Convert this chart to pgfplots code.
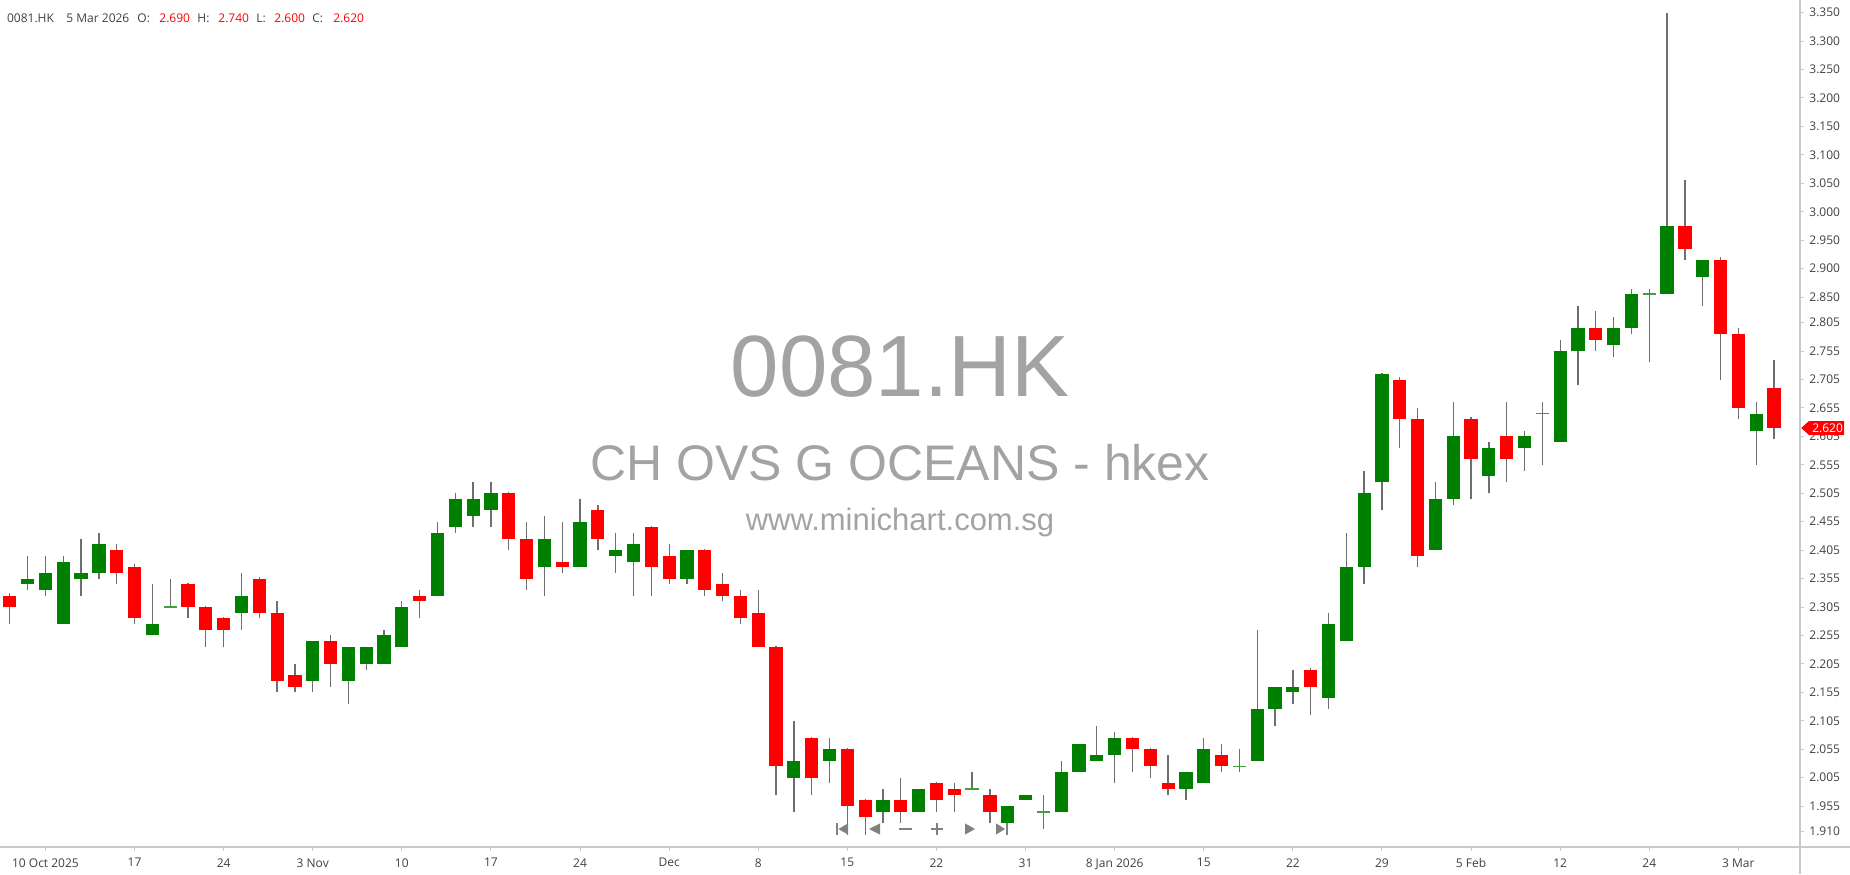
\documentclass[border=0pt]{standalone}
\usepackage{pgfplots}
\pgfplotsset{compat=1.18}
\usepackage{pgfplotstable}
\usepackage{fontspec}
\setmainfont{Open Sans}
\newfontfamily\wmfont{Liberation Sans}
\definecolor{cgreen}{HTML}{008000}
\definecolor{cred}{HTML}{FF0000}
\definecolor{wick}{HTML}{6E6E6E}
\definecolor{axisgray}{HTML}{C8C8C8}
\definecolor{lblgray}{HTML}{404040}
\definecolor{wmgray}{HTML}{A3A3A3}
\definecolor{navgray}{HTML}{808080}

% rising candles (close > open)
\pgfplotstableread{
i O H L C
1 2.345 2.395 2.335 2.355
2 2.335 2.395 2.325 2.365
3 2.275 2.395 2.275 2.385
4 2.355 2.425 2.325 2.365
5 2.365 2.435 2.355 2.415
8 2.255 2.345 2.255 2.275
13 2.295 2.365 2.265 2.325
17 2.175 2.245 2.155 2.245
19 2.175 2.235 2.135 2.235
20 2.205 2.235 2.195 2.235
21 2.205 2.265 2.205 2.255
22 2.235 2.315 2.235 2.305
24 2.325 2.455 2.325 2.435
25 2.445 2.505 2.435 2.495
26 2.465 2.525 2.445 2.495
27 2.475 2.525 2.445 2.505
30 2.375 2.465 2.325 2.425
32 2.375 2.495 2.375 2.455
34 2.395 2.435 2.365 2.405
35 2.385 2.435 2.325 2.415
38 2.355 2.405 2.345 2.405
44 2.005 2.105 1.945 2.035
46 2.035 2.075 1.995 2.055
49 1.945 1.985 1.925 1.965
51 1.945 1.985 1.945 1.985
56 1.925 1.955 1.915 1.955
57 1.965 1.975 1.965 1.975
59 1.945 2.035 1.945 2.015
60 2.015 2.065 2.015 2.065
61 2.035 2.095 2.035 2.045
62 2.045 2.085 1.995 2.075
66 1.985 2.015 1.965 2.015
67 1.995 2.075 1.995 2.055
70 2.035 2.265 2.035 2.125
71 2.125 2.165 2.095 2.165
72 2.155 2.195 2.135 2.165
74 2.145 2.295 2.125 2.275
75 2.245 2.435 2.245 2.375
76 2.375 2.545 2.345 2.505
77 2.525 2.717 2.475 2.715
80 2.405 2.525 2.405 2.495
81 2.495 2.665 2.485 2.605
83 2.535 2.595 2.505 2.585
85 2.585 2.615 2.545 2.605
87 2.595 2.775 2.595 2.755
88 2.755 2.835 2.695 2.795
90 2.765 2.815 2.745 2.795
91 2.795 2.865 2.785 2.855
93 2.855 3.350 2.855 2.975
95 2.885 2.915 2.835 2.915
98 2.615 2.665 2.555 2.645
}\greendata

% falling candles (close < open)
\pgfplotstableread{
i O H L C
0 2.325 2.330 2.275 2.305
6 2.405 2.415 2.345 2.365
7 2.375 2.380 2.275 2.285
10 2.345 2.348 2.285 2.305
11 2.305 2.307 2.235 2.265
12 2.285 2.287 2.235 2.265
14 2.355 2.358 2.285 2.295
15 2.295 2.315 2.155 2.175
16 2.185 2.205 2.155 2.165
18 2.245 2.255 2.165 2.205
23 2.325 2.335 2.285 2.315
28 2.505 2.507 2.405 2.425
29 2.425 2.455 2.335 2.355
31 2.385 2.455 2.365 2.375
33 2.475 2.485 2.405 2.425
36 2.445 2.447 2.325 2.375
37 2.395 2.415 2.345 2.355
39 2.405 2.407 2.325 2.335
40 2.345 2.365 2.315 2.325
41 2.325 2.335 2.275 2.285
42 2.295 2.335 2.235 2.235
43 2.235 2.237 1.975 2.025
45 2.075 2.077 1.975 2.005
47 2.055 2.057 1.905 1.955
48 1.965 1.967 1.905 1.935
50 1.965 2.005 1.925 1.945
52 1.995 1.997 1.945 1.965
53 1.985 1.995 1.945 1.975
55 1.975 1.985 1.925 1.945
63 2.075 2.077 2.015 2.055
64 2.055 2.057 2.005 2.025
65 1.995 2.045 1.975 1.985
68 2.045 2.065 2.015 2.025
73 2.195 2.197 2.115 2.165
78 2.705 2.710 2.585 2.635
79 2.635 2.655 2.375 2.395
82 2.635 2.640 2.495 2.565
84 2.605 2.665 2.525 2.565
89 2.795 2.825 2.755 2.775
94 2.975 3.055 2.915 2.935
96 2.915 2.920 2.705 2.785
97 2.785 2.795 2.635 2.655
99 2.690 2.740 2.600 2.620
}\reddata

% unchanged candles (close = open)
\pgfplotstableread{
i O H L C
9 2.305 2.355 2.305 2.305
54 1.985 2.015 1.985 1.985
58 1.945 1.975 1.915 1.945
69 2.025 2.055 2.015 2.025
86 2.645 2.665 2.555 2.645
92 2.855 2.865 2.735 2.855
}\dojidata

\pgfplotsset{
  candle/.style={only marks, mark=*, mark size=0pt, mark options={draw=none, fill=none}, forget plot,
    error bars/.cd, y dir=plus, y explicit, error mark=none},
}

\begin{document}
\begin{tikzpicture}
\useasboundingbox (0pt,-13.5pt) rectangle (925pt,423.5pt);
% watermark
\node[anchor=base, inner sep=0pt, text=wmgray, font=\wmfont\fontsize{43.5}{50}\selectfont] at (450pt,225.5pt) {0081.HK};
\node[anchor=base, inner sep=0pt, text=wmgray, font=\wmfont\fontsize{25}{30}\selectfont] at (450pt,183.2pt) {CH OVS G OCEANS - hkex};
\node[anchor=base, inner sep=0pt, text=wmgray, font=\wmfont\fontsize{15.5}{18}\selectfont] at (450pt,158.2pt) {www.minichart.com.sg};

\begin{axis}[
  at={(0pt,0pt)}, anchor=south west,
  scale only axis, width=900pt, height=423.5pt,
  xmin=-0.55, xmax=100.46, ymin=1.8831, ymax=3.3723,
  axis x line*=bottom, axis y line*=right,
  axis line style={draw=axisgray, line width=0.6pt, -},
  tick align=outside, major tick length=2pt,
  every tick/.style={draw=axisgray, line width=0.5pt},
  xtick={2,7,12,17,22,27,32,37,42,47,52,57,62,67,72,77,82,87,92,97},
  xticklabels={10 Oct 2025,17,24,3 Nov,10,17,24,Dec,8,15,22,31,8 Jan 2026,15,22,29,5 Feb,12,24,3 Mar},
  ytick={3.35,3.3,3.25,3.2,3.15,3.1,3.05,3.0,2.95,2.9,2.85,2.805,2.755,2.705,2.655,2.605,2.555,2.505,2.455,2.405,2.355,2.305,2.255,2.205,2.155,2.105,2.055,2.005,1.955,1.91},
  yticklabels={3.350,3.300,3.250,3.200,3.150,3.100,3.050,3.000,2.950,2.900,2.850,2.805,2.755,2.705,2.655,2.605,2.555,2.505,2.455,2.405,2.355,2.305,2.255,2.205,2.155,2.105,2.055,2.005,1.955,1.910},
  ticklabel style={font=\fontsize{6}{7}\selectfont, text=lblgray},
  xticklabel style={anchor=north, inner sep=0pt, yshift=-3.5pt},
  yticklabel style={anchor=west, inner sep=0pt, xshift=2.5pt},
  clip=false,
]
% wicks
\addplot[candle, error bar style={draw=wick, line width=0.65pt}]
  table[x=i, y=L, y error expr=\thisrow{H}-\thisrow{L}] {\greendata};
\addplot[candle, error bar style={draw=wick, line width=0.65pt}]
  table[x=i, y=L, y error expr=\thisrow{H}-\thisrow{L}] {\reddata};
\addplot[candle, error bar style={draw=wick, line width=0.65pt}]
  table[x=i, y=L, y error expr=\thisrow{H}-\thisrow{L}] {\dojidata};
% bodies
\addplot[candle, error bar style={draw=cgreen, line width=6.6pt}]
  table[x=i, y=O, y error expr=\thisrow{C}-\thisrow{O}] {\greendata};
\addplot[candle, error bar style={draw=cred, line width=6.6pt}]
  table[x=i, y=C, y error expr=\thisrow{O}-\thisrow{C}] {\reddata};
\addplot[only marks, mark=-, mark size=3.3pt, forget plot, mark options={draw=cgreen!75!white, line width=0.8pt}]
  table[x=i, y=O] {\dojidata};
\end{axis}

% axis line continuations
\draw[axisgray, line width=0.6pt] (900pt,0pt) -- (925pt,0pt);
\draw[axisgray, line width=0.6pt] (900pt,0pt) -- (900pt,-13.5pt);

% last price marker
\fill[cred] (900.6pt,209.5pt) -- (904.5pt,213pt) -- (922pt,213pt) -- (922pt,206pt) -- (904.5pt,206pt) -- cycle;
\node[text=white, inner sep=0pt, font=\fontsize{6}{7}\selectfont] at (913.8pt,209.5pt) {2.620};

% header
\begin{scope}[every node/.style={anchor=west, inner sep=0pt, font=\fontsize{6}{7}\selectfont}]
\node[text=lblgray] at (3.35pt,414.5pt) {0081.HK};
\node[text=lblgray] at (33pt,414.5pt) {5 Mar 2026};
\node[text=lblgray] at (68.5pt,414.5pt) {O:};
\node[text=cred] at (79.5pt,414.5pt) {2.690};
\node[text=lblgray] at (98.5pt,414.5pt) {H:};
\node[text=cred] at (109pt,414.5pt) {2.740};
\node[text=lblgray] at (128pt,414.5pt) {L:};
\node[text=cred] at (137pt,414.5pt) {2.600};
\node[text=lblgray] at (156pt,414.5pt) {C:};
\node[text=cred] at (166.5pt,414.5pt) {2.620};
\end{scope}

% navigation icons
\begin{scope}[navgray]
\fill (418pt,6.2pt) rectangle (418.9pt,11.8pt);
\fill (419.2pt,9pt) -- (424pt,11.8pt) -- (424pt,6.2pt) -- cycle;
\fill (434.5pt,9pt) -- (440pt,11.8pt) -- (440pt,6.2pt) -- cycle;
\draw[line width=1pt] (449.5pt,9pt) -- (456pt,9pt);
\draw[line width=1pt] (465.5pt,9pt) -- (471.5pt,9pt);
\draw[line width=1pt] (468.5pt,6pt) -- (468.5pt,12pt);
\fill (487.5pt,9pt) -- (482.5pt,11.8pt) -- (482.5pt,6.2pt) -- cycle;
\fill (502.5pt,9pt) -- (498pt,11.8pt) -- (498pt,6.2pt) -- cycle;
\fill (503.1pt,6.2pt) rectangle (504pt,11.8pt);
\end{scope}
\end{tikzpicture}
\end{document}
